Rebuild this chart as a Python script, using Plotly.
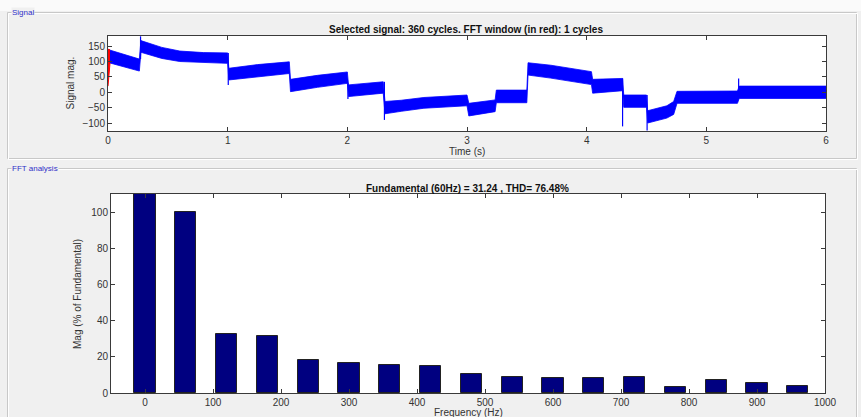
import plotly.graph_objects as go

# ---------------- data ----------------
# Envelope of the dense time-domain signal (upper / lower edges of the blue band)
sig_t  = [0.0, 0.262, 0.275, 0.35, 0.45, 0.6, 0.8, 1.0, 1.01, 1.25, 1.515, 1.525, 1.75, 2.0,
          2.01, 2.30, 2.315, 2.45, 2.64, 3.0, 3.015, 3.235, 3.245, 3.50, 3.51, 3.7, 4.04, 4.05,
          4.30, 4.31, 4.50, 4.51, 4.67, 4.727, 4.755, 5.26, 5.275, 6.0]
sig_hi = [139, 108, 168, 158, 146, 134, 129, 128, 78, 90, 99, 42, 55, 66,
          24, 34, -30, -26, -17, -9, -36, -25, 7, 7, 96, 88, 67, 42,
          45, -9, -9, -60, -44, -30, 3, 4, 20, 20]
sig_lo = [97, 69, 130, 122, 110, 100, 96, 94, 40, 50, 61, 2, 16, 29,
          -14, -3, -70, -62, -52, -44, -77, -63, -34, -34, 56, 46, 25, -3,
          5, -49, -49, -100, -84, -72, -36, -36, -20, -20]

# Transient spikes (time, start value, end value)
spike_t    = [0.272, 1.005, 2.005, 2.31, 4.30, 4.505, 5.27]
spike_from = [108, 128, 29, 34, 45, -9, 4]
spike_to   = [182, 24, -22, -90, -111, -124, 45]

# FFT window (first cycle, in red)
win_t  = [0.0, 0.0167]
win_hi = [140, 138]
win_lo = [20, 95]

# FFT spectrum
freq_hz = [0, 60, 120, 180, 240, 300, 360, 420, 480, 540, 600, 660, 720, 780, 840, 900, 960]
mag_pct = [120, 100, 32.5, 31.5, 18.1, 16.8, 15.7, 14.8, 10.7, 8.9, 8.5, 8.5, 8.9, 3.2, 7.0, 5.7, 3.7]

top_title = "Selected signal: 360 cycles. FFT window (in red): 1 cycles"
bot_title = "Fundamental (60Hz) = 31.24 , THD= 76.48%"

# ---------------- figure ----------------
W, H = 861, 417
FONT = "Liberation Sans, Arial, Helvetica, sans-serif"
AX = "#3a3a3a"

def px(x):
    return x / W

def py(y):
    return 1 - y / H

fig = go.Figure()

# signal band
fig.add_trace(go.Scatter(x=sig_t, y=sig_hi, mode="lines", line=dict(color="#0000ff", width=0.8),
                         hoverinfo="skip", showlegend=False, xaxis="x", yaxis="y"))
fig.add_trace(go.Scatter(x=sig_t, y=sig_lo, mode="lines", line=dict(color="#0000ff", width=0.8),
                         fill="tonexty", fillcolor="#0000ff",
                         hoverinfo="skip", showlegend=False, xaxis="x", yaxis="y"))
# spikes
sx, sy = [], []
for t, a, b in zip(spike_t, spike_from, spike_to):
    sx += [t, t, None]
    sy += [a, b, None]
fig.add_trace(go.Scatter(x=sx, y=sy, mode="lines", line=dict(color="#0000ff", width=1.2),
                         hoverinfo="skip", showlegend=False, xaxis="x", yaxis="y"))
# red FFT window
fig.add_trace(go.Scatter(x=win_t, y=win_hi, mode="lines", line=dict(color="#ff0000", width=1),
                         hoverinfo="skip", showlegend=False, xaxis="x", yaxis="y"))
fig.add_trace(go.Scatter(x=win_t, y=win_lo, mode="lines", line=dict(color="#ff0000", width=1),
                         fill="tonexty", fillcolor="#ff0000",
                         hoverinfo="skip", showlegend=False, xaxis="x", yaxis="y"))

# spectrum bars
fig.add_trace(go.Bar(x=freq_hz, y=mag_pct, width=31,
                     marker=dict(color="#000080", line=dict(color="#222222", width=1)),
                     hoverinfo="skip", showlegend=False, xaxis="x2", yaxis="y2"))

axis_common = dict(showline=True, linecolor=AX, linewidth=1, mirror="ticks", ticks="inside",
                   ticklen=4, tickcolor=AX, showgrid=False, zeroline=False, automargin=False,
                   tickfont=dict(family=FONT, size=10, color="#333333"))

fig.update_layout(
    width=W, height=H, autosize=False,
    margin=dict(l=0, r=0, t=0, b=0, autoexpand=False),
    paper_bgcolor="#f0f0f0",
    plot_bgcolor="#ffffff",
    bargap=0,
    xaxis=dict(domain=[px(108), px(826)], range=[0, 6], tickvals=[0, 1, 2, 3, 4, 5, 6],
               anchor="y", **axis_common),
    yaxis=dict(domain=[py(131), py(36)], range=[-126, 183],
               tickvals=[-100, -50, 0, 50, 100, 150], anchor="x", **axis_common),
    xaxis2=dict(domain=[px(111), px(825)], range=[-50, 1000],
                tickvals=[0, 100, 200, 300, 400, 500, 600, 700, 800, 900, 1000],
                anchor="y2", **axis_common),
    yaxis2=dict(domain=[py(393), py(194)], range=[0, 110],
                tickvals=[0, 20, 40, 60, 80, 100], anchor="x2", **axis_common),
)

shapes = []
# white strip at top
shapes.append(dict(type="rect", xref="paper", yref="paper", x0=0, x1=1, y0=py(11), y1=1,
                   fillcolor="#fafafa", line=dict(width=0), layer="below"))
# panel frames (etched look)
for (top, bottom) in [(12.5, 158.5), (168.5, 430)]:
    shapes.append(dict(type="rect", xref="paper", yref="paper", x0=px(7.5), x1=px(856.5),
                       y0=py(bottom), y1=py(top), line=dict(color="#c8c8c8", width=1),
                       layer="below"))
    shapes.append(dict(type="rect", xref="paper", yref="paper", x0=px(8.5), x1=px(857.5),
                       y0=py(bottom + 1), y1=py(top + 1), line=dict(color="#ffffff", width=1),
                       layer="below"))
fig.update_layout(shapes=shapes)

ann = []
def text(x, y, s, size=10, bold=False, color="#222222", angle=0, xanchor="center", bg=None):
    d = dict(xref="paper", yref="paper", x=px(x), y=py(y), text=("<b>%s</b>" % s) if bold else s,
             showarrow=False, xanchor=xanchor, yanchor="middle", textangle=angle,
             font=dict(family=FONT, size=size, color=color))
    if bg:
        d["bgcolor"] = bg
        d["borderpad"] = 0
    ann.append(d)

text(11, 12.5, "Signal", size=8, color="#3030c8", xanchor="left", bg="#f0f0f0")
text(11, 168.5, "FFT analysis", size=8, color="#3030c8", xanchor="left", bg="#f0f0f0")
text(466, 29.5, top_title, size=10, bold=True, color="#111111")
text(467, 188, bot_title, size=10, bold=True, color="#111111")
text(467, 151.5, "Time (s)", size=10, color="#333333")
text(468, 412, "Frequency (Hz)", size=10, color="#333333")
text(70, 83.5, "Signal mag.", size=10, color="#333333", angle=-90)
text(77, 294, "Mag (% of Fundamental)", size=10, color="#333333", angle=-90)
fig.update_layout(annotations=ann)

fig.write_html(
    "out.html",
    config={"displayModeBar": False},
    post_script=("var s=document.createElement('style');"
                 "s.textContent='html,body{margin:0;padding:0;overflow:hidden;}';"
                 "document.head.appendChild(s);"),
)
